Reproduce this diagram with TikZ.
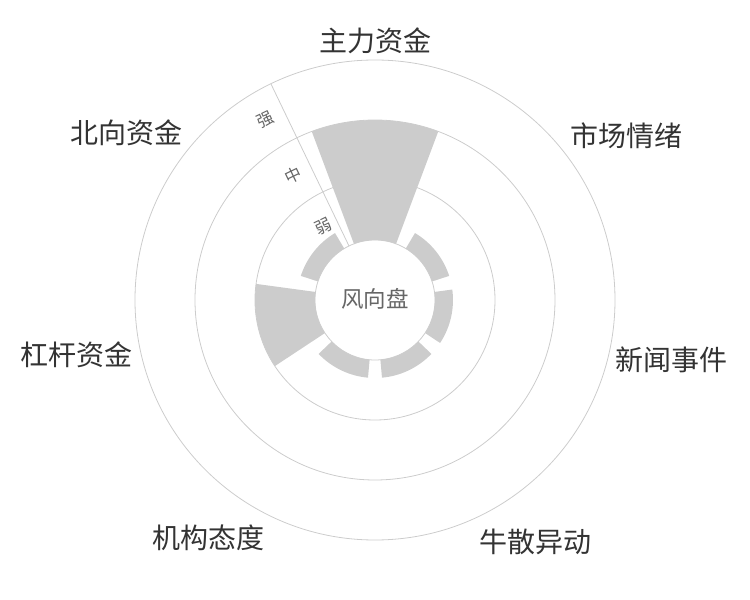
\documentclass[tikz,border=0pt]{standalone}
\usepackage{fontspec}
\newfontfamily\cjk{Noto Sans CJK SC}
\usepackage{tikz}
\usetikzlibrary{calc}
\definecolor{ringgray}{HTML}{CCCCCC}
\definecolor{bargray}{HTML}{CCCCCC}
\definecolor{textdark}{HTML}{333333}
\definecolor{textmid}{HTML}{666666}
\tikzset{
  ring/.style={draw=ringgray, line width=0.8pt},
  catlabel/.style={text=textdark, font=\cjk\fontsize{28}{28}\selectfont, inner sep=0pt},
  levellabel/.style={text=textmid, font=\cjk\fontsize{16.5}{16.5}\selectfont, inner sep=0pt, rotate=25.71}
}

\begin{document}
\begin{tikzpicture}[x=1pt,y=1pt]
\useasboundingbox (-375,-300) rectangle (375,300);
% rings
\draw[ring] (0,0) circle[radius=60];
\draw[ring] (0,0) circle[radius=120];
\draw[ring] (0,0) circle[radius=180];
\draw[ring] (0,0) circle[radius=240];
% bars, one per category, clockwise from the top
\foreach \i/\r in {0/180,1/78,2/78,3/78,4/78,5/120,6/78}{
  \pgfmathsetmacro\a{90-\i*360/7}
  \fill[bargray] (\a-20.57:60) arc[start angle=\a-20.57, end angle=\a+20.57, radius=60]
    -- (\a+20.57:\r) arc[start angle=\a+20.57, end angle=\a-20.57, radius=\r] -- cycle;
}
% radial axis
\draw[ring] (115.71:60) -- (115.71:240);
\node[levellabel] (weak) at (125.2:89.7) {弱};
\node[levellabel] (mid) at (123.2:149.3) {中};
\node[levellabel] (strong) at (121.4:211) {强};
% centre
\node[text=textmid, font=\cjk\fontsize{22.5}{22.5}\selectfont, inner sep=0pt] (hub) at (0,1) {风向盘};
% category names
\node[catlabel] (zhuli) at (0.5,259.5) {主力资金};
\node[catlabel] (qingxu) at (251.7,164.2) {市场情绪};
\node[catlabel] (xinwen) at (296.7,-60) {新闻事件};
\node[catlabel] (niusan) at (160.8,-241.7) {牛散异动};
\node[catlabel] (jigou) at (-166.3,-238.3) {机构态度};
\node[catlabel] (ganggan) at (-298.8,-54.7) {杠杆资金};
\node[catlabel] (beixiang) at (-248.2,167.5) {北向资金};
\end{tikzpicture}
\end{document}
